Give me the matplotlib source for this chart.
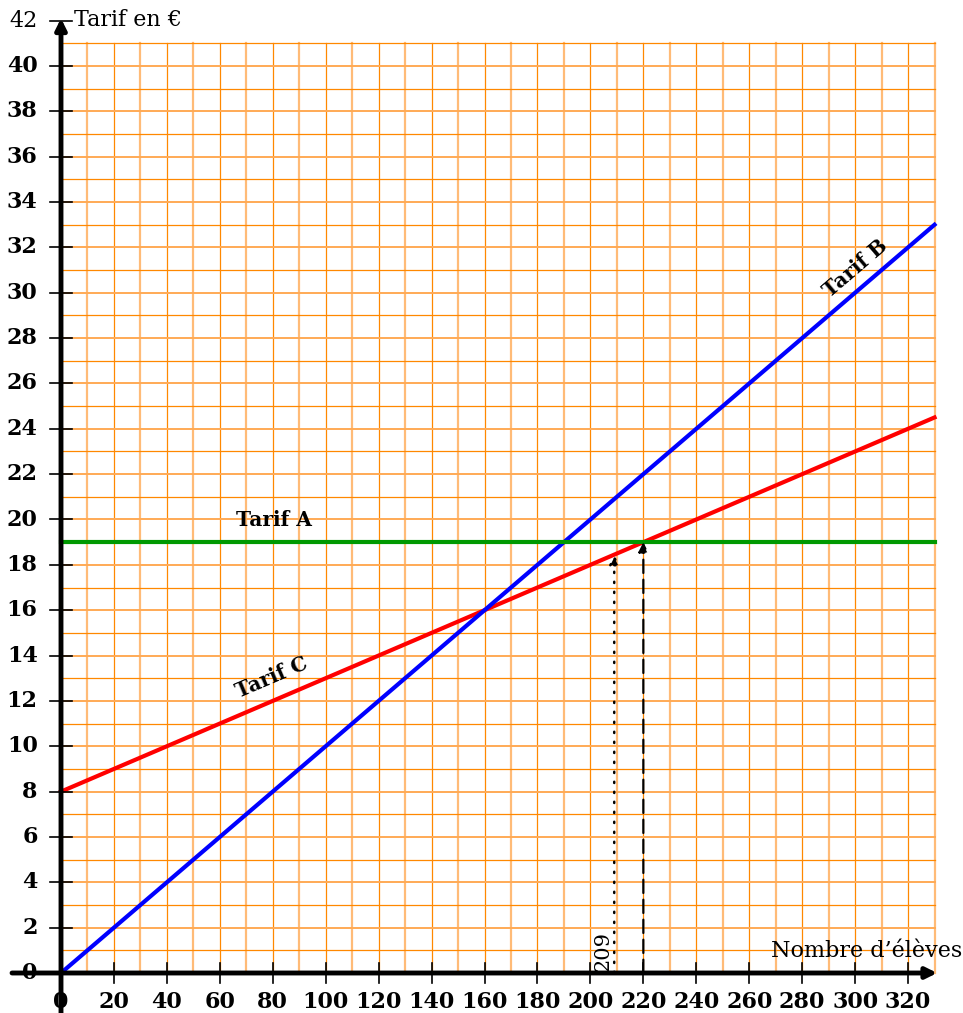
import numpy as np
import matplotlib.pyplot as plt

# Data
x_max = 330
tarif_a = 19.0            # flat price
tarif_b_slope = 0.1       # price per pupil
tarif_c_start = 8.0
tarif_c_slope = 0.05
x_dotted = 209
x_dashed = 220
x_ticks = list(range(0, 321, 20))
y_ticks = list(range(0, 43, 2))

plt.rcParams['font.family'] = ['DejaVu Serif']

fig = plt.figure(figsize=(9.63, 10.13), dpi=100)
ax = fig.add_axes([0, 0, 1, 1])
ax.set_xlim(-61 / 2.647, (963 - 61) / 2.647)
ax.set_ylim(-40 / 22.675, 973 / 22.675)
ax.axis('off')

# orange grid
for gx in range(10, x_max + 1, 10):
    if (gx // 10) % 2 == 1:
        ax.plot([gx, gx], [0, 41], color='#ffbb77', lw=1.6, zorder=1)
    else:
        ax.plot([gx, gx], [0, 41], color='#ff8800', lw=0.9, zorder=1)
for gy in range(1, 42):
    if gy % 2 == 0:
        ax.plot([0, x_max], [gy, gy], color='#ffaa55', lw=1.4, zorder=1)
    else:
        ax.plot([0, x_max], [gy, gy], color='#ff8800', lw=0.9, zorder=1)

# axes with arrows
ax.annotate('', xy=(331, 0), xytext=(-18.5, 0),
            arrowprops=dict(arrowstyle='-|>', color='black', lw=3.5,
                            mutation_scale=16, shrinkA=0, shrinkB=0), zorder=5)
ax.annotate('', xy=(0, 42.1), xytext=(0, -2),
            arrowprops=dict(arrowstyle='-|>', color='black', lw=3.5,
                            mutation_scale=16, shrinkA=0, shrinkB=0), zorder=5)

for t in x_ticks:
    ax.plot([t, t], [-0.45, 0.45], color='black', lw=1.2, zorder=5)
    ax.text(t, -1.3, str(t), ha='center', va='center', fontsize=16,
            fontweight='bold')
for t in y_ticks:
    ax.plot([-4, 4], [t, t], color='black', lw=1.2, zorder=5)
    ax.text(-8.8, t, str(t), ha='right', va='center', fontsize=16,
            fontweight='normal' if t == 42 else 'bold')

ax.text(5, 42.05, 'Tarif en €', ha='left', va='center', fontsize=16)
ax.text(340.5, 0.95, 'Nombre d\u2019élèves', ha='right', va='center', fontsize=16)

# the three tariffs
xs = np.array([0, x_max])
ax.plot(xs, tarif_c_start + tarif_c_slope * xs, color='#ff0000', lw=3.0, zorder=3)
ax.plot(xs, tarif_b_slope * xs, color='#0000ff', lw=3.0, zorder=3)
ax.plot(xs, [tarif_a, tarif_a], color='#009900', lw=3.0, zorder=3)

ax.text(80.5, 20.0, 'Tarif A', ha='center', va='center', fontsize=14.5,
        fontweight='bold')
ax.text(300, 31.1, 'Tarif B', ha='center', va='center', fontsize=14.5,
        fontweight='bold', rotation=40.6, rotation_mode='anchor')
ax.text(79.7, 13.05, 'Tarif C', ha='center', va='center', fontsize=14.5,
        fontweight='bold', rotation=23.2, rotation_mode='anchor')

# reading lines
y_dot = tarif_c_start + tarif_c_slope * x_dotted
ax.annotate('', xy=(x_dotted, y_dot), xytext=(x_dotted, 0),
            arrowprops=dict(arrowstyle='-|>', color='black', lw=1.8,
                            linestyle=(0, (0.5, 3.5)), mutation_scale=14,
                            shrinkA=0, shrinkB=0), zorder=4)
ax.annotate('', xy=(x_dashed, tarif_a), xytext=(x_dashed, 0),
            arrowprops=dict(arrowstyle='-|>', color='black', lw=1.6,
                            linestyle=(0, (6, 3)), mutation_scale=14,
                            shrinkA=0, shrinkB=0), zorder=4)
ax.text(204.8, 0.95, str(x_dotted), ha='center', va='center', fontsize=15,
        rotation=90)

fig.savefig('out.png', dpi=100)
